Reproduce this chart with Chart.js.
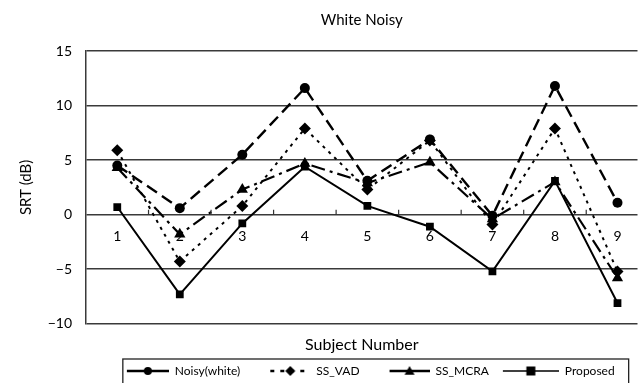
<!DOCTYPE html>
<html>
<head>
<meta charset="utf-8">
<script src="https://cdn.jsdelivr.net/npm/chart.js@4.4.1/dist/chart.umd.min.js"></script>
<style>
html, body { margin: 0; padding: 0; background: #fff; overflow: hidden; }
#wrap { width: 644px; height: 383px; }
</style>
</head>
<body>
<div id="wrap"><canvas id="chart"></canvas></div>
<script>
const subjects = [1, 2, 3, 4, 5, 6, 7, 8, 9];
const noisyWhite = [4.5, 0.6, 5.5, 11.6, 3.1, 6.9, -0.1, 11.8, 1.1];
const ssVad = [5.9, -4.3, 0.8, 7.9, 2.3, 6.8, -0.9, 7.9, -5.2];
const ssMcra = [4.3, -1.8, 2.3, 4.7, 2.9, 4.8, -0.4, 3.0, -5.8];
const proposed = [0.7, -7.3, -0.8, 4.4, 0.8, -1.1, -5.2, 3.1, -8.1];
const yTicks = [-10, -5, 0, 5, 10, 15];

const FONT = 'Lato, "Open Sans", sans-serif';
const SAMPLE_W = 60; // every legend picture has this width, sample sits at its right end

function drawMarker(g, style, x, y, r) {
    g.beginPath();
    if (style === 'circle') {
        g.arc(x, y, r, 0, Math.PI * 2);
    } else if (style === 'rectRot') {
        g.moveTo(x, y - r); g.lineTo(x + r, y); g.lineTo(x, y + r); g.lineTo(x - r, y);
    } else if (style === 'triangle') {
        g.moveTo(x, y - r); g.lineTo(x + r, y + r * 0.75); g.lineTo(x - r, y + r * 0.75);
    } else {
        g.rect(x - r, y - r, r * 2, r * 2);
    }
    g.closePath();
    g.fill();
}

function legendSample(len, dash, width, marker, r) {
    const c = document.createElement('canvas');
    c.width = SAMPLE_W; c.height = 12;
    const g = c.getContext('2d');
    const x0 = SAMPLE_W - len;
    g.strokeStyle = '#000';
    g.fillStyle = '#000';
    g.lineWidth = width;
    g.setLineDash(dash);
    g.beginPath(); g.moveTo(x0, 6); g.lineTo(SAMPLE_W, 6); g.stroke();
    g.setLineDash([]);
    drawMarker(g, marker, x0 + len / 2, 6, r);
    return c;
}

function series(label, values, dash, width, marker, radius, img) {
    return {
        label: label,
        data: subjects.map((s, i) => ({ x: s, y: values[i] })),
        borderColor: '#000',
        backgroundColor: '#000',
        borderWidth: width,
        borderDash: dash,
        pointStyle: marker,
        pointRadius: radius,
        pointBorderWidth: 0,
        tension: 0,
        legendImg: img
    };
}

const datasets = [
    series('Noisy(white)', noisyWhite, [12, 6], 2.4, 'circle', 5,
        legendSample(42, [], 2.6, 'circle', 4)),
    series('SS_VAD', ssVad, [3, 5], 2, 'rectRot', 6,
        legendSample(40, [4, 6], 2.6, 'rectRot', 5)),
    series('SS_MCRA', ssMcra, [14, 5, 3, 5], 2.2, 'triangle', 6.5,
        legendSample(40, [], 2.6, 'triangle', 5)),
    series('Proposed', proposed, [], 2, 'rect', 5.5,
        legendSample(56, [], 1.6, 'rect', 4.5))
];

// border round the legend and the small upward ticks on the zero line
const extras = {
    id: 'extras',
    afterDraw(chart) {
        const ctx = chart.ctx;
        const x = chart.scales.x, y = chart.scales.y;
        const y0 = y.getPixelForValue(0);
        ctx.save();
        ctx.strokeStyle = '#333';
        ctx.lineWidth = 1.2;
        ctx.beginPath();
        for (let i = 0; i < subjects.length; i++) {
            const px = x.getPixelForValue(subjects[i] + 0.5);
            if (px > chart.chartArea.right) break;
            ctx.moveTo(px, y0);
            ctx.lineTo(px, y0 - 5);
        }
        ctx.stroke();

        const boxes = chart.legend.legendHitBoxes;
        if (boxes && boxes.length) {
            const last = boxes[boxes.length - 1];
            const left = boxes[0].left + SAMPLE_W - 42 - 4;
            const right = last.left + last.width + 14;
            const top = boxes[0].top + boxes[0].height / 2 - 12;
            ctx.strokeStyle = '#222';
            ctx.lineWidth = 1.3;
            ctx.strokeRect(left, top, right - left, 40);
        }
        ctx.restore();
    }
};

new Chart(document.getElementById('chart'), {
    type: 'line',
    data: { datasets: datasets },
    options: {
        responsive: true,
        maintainAspectRatio: false,
        animation: false,
        layout: { padding: { left: 0, right: 0, top: 0, bottom: -4 } },
        scales: {
            x: {
                type: 'linear',
                position: { y: 0 },
                min: 0.5,
                max: 9.32,
                afterBuildTicks: (s) => { s.ticks = subjects.map(v => ({ value: v })); },
                grid: { display: false },
                border: { display: false },
                ticks: { color: '#000', font: { family: FONT, size: 14 }, padding: 5 }
            },
            y: {
                min: -10,
                max: 15,
                afterBuildTicks: (s) => { s.ticks = yTicks.map(v => ({ value: v })); },
                afterFit: (s) => { s.width = 86; },
                grid: { color: '#3a3a3a', lineWidth: 1.5, drawTicks: false },
                border: { color: '#3a3a3a', width: 1.5 },
                ticks: {
                    color: '#000',
                    font: { family: FONT, size: 14 },
                    padding: 14,
                    callback: (v) => String(v).replace('-', '\u2212')
                },
                title: {
                    display: true,
                    text: 'SRT (dB)',
                    color: '#000',
                    font: { family: FONT, size: 15 },
                    padding: { top: 17, bottom: 0 }
                }
            }
        },
        plugins: {
            title: {
                display: true,
                fullSize: false,
                text: 'White Noisy',
                color: '#000',
                font: { family: FONT, size: 15, weight: 'normal' },
                padding: { top: 11, bottom: 22 }
            },
            subtitle: {
                display: true,
                fullSize: false,
                position: 'bottom',
                weight: 500,
                text: 'Subject Number',
                color: '#000',
                font: { family: FONT, size: 16 },
                padding: { top: 11, bottom: 1 }
            },
            legend: {
                position: 'bottom',
                fullSize: false,
                labels: {
                    usePointStyle: true,
                    pointStyleWidth: SAMPLE_W,
                    color: '#000',
                    font: { family: FONT, size: 12 },
                    padding: 10,
                    generateLabels: (chart) => chart.data.datasets.map((d, i) => ({
                        text: d.label,
                        pointStyle: d.legendImg,
                        datasetIndex: i,
                        fontColor: '#000',
                        lineWidth: 0,
                        strokeStyle: 'transparent',
                        fillStyle: 'transparent'
                    }))
                }
            },
            tooltip: { enabled: false }
        }
    },
    plugins: [extras]
});
</script>
</body>
</html>
